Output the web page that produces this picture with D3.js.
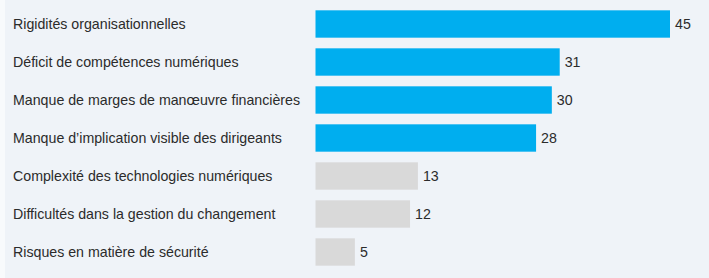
<!DOCTYPE html>
<html>
<head>
<meta charset="utf-8">
<script src="https://cdn.jsdelivr.net/npm/d3@7"></script>
<style>
  body { margin: 0; background: #eff3f8; }
  svg { display: block; font-family: "Liberation Sans", Arial, sans-serif; }
</style>
</head>
<body>
<div id="chart"></div>
<script>
const categories = [
  "Rigidités organisationnelles",
  "Déficit de compétences numériques",
  "Manque de marges de manœuvre financières",
  "Manque d’implication visible des dirigeants",
  "Complexité des technologies numériques",
  "Difficultés dans la gestion du changement",
  "Risques en matière de sécurité"
];
const values = [45, 31, 30, 28, 13, 12, 5];
const highlighted = [true, true, true, true, false, false, false];

const width = 709, height = 278;
const barLeft = 315.5;

const svg = d3.select('#chart').append('svg')
  .attr('width', width).attr('height', height);

svg.append('rect').attr('width', width).attr('height', height).attr('fill', '#eff3f8');
svg.append('rect').attr('width', 5).attr('height', height).attr('fill', '#f8fafc');

const x = d3.scaleLinear().domain([0, 45]).range([barLeft, 670]);
const y = d3.scaleBand().domain(categories).range([5, 271]).paddingInner(0.28).paddingOuter(0.14);

const rows = svg.selectAll('g.row').data(categories).enter().append('g').attr('class', 'row');

rows.append('rect')
  .attr('x', x(0))
  .attr('y', d => y(d))
  .attr('height', y.bandwidth())
  .attr('width', (d, i) => x(values[i]) - x(0))
  .attr('fill', (d, i) => highlighted[i] ? '#00aeef' : '#d9d9d9');

rows.append('text')
  .attr('x', 13)
  .attr('y', d => y(d) + y.bandwidth() / 2)
  .attr('dy', '0.35em')
  .style('font-size', '14.2px')
  .attr('fill', '#2b2b2b')
  .text(d => d);

rows.append('text')
  .attr('x', (d, i) => x(values[i]) + 5)
  .attr('y', d => y(d) + y.bandwidth() / 2)
  .attr('dy', '0.35em')
  .style('font-size', '14.2px')
  .attr('fill', '#2b2b2b')
  .text((d, i) => values[i]);
</script>
</body>
</html>
